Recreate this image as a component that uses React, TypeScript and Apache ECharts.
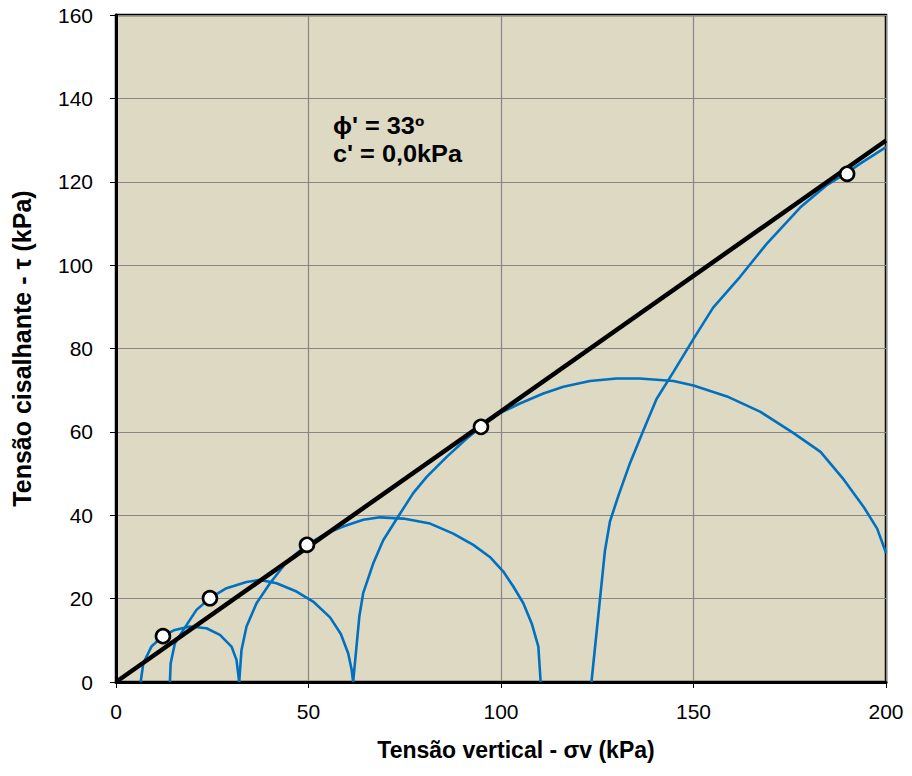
import React, { useEffect, useRef } from "react";
import * as echarts from "echarts";

// Mohr circles (σ, τ) for each test stage, kPa
const circle1: number[][] = [
  [6.4, 0], [7.1, 4.5], [9.2, 8.5], [12.2, 11], [15, 12.4], [19.2, 13.3], [23.5, 12.9],
  [27, 11.3], [30, 8.5], [31.3, 5.3], [32, 0],
];
const circle2: number[][] = [
  [14, 0], [14.2, 4.5], [15.3, 9.3], [17.5, 12.5], [20.9, 17.3], [24.4, 20.1], [28.7, 22.5],
  [33.9, 24], [37.4, 24.5], [41.7, 23.7], [46.9, 21.7], [51.2, 19.3], [55.6, 15.5],
  [58.4, 11.5], [60.3, 6.9], [61.2, 3], [61.6, 0],
];
const circle3: number[][] = [
  [32, 0], [32.6, 7.7], [33.9, 13.3], [36.5, 18.9], [40, 23.7], [44.3, 28.8], [49.6, 32.9],
  [54.7, 35.7], [59, 37.3], [64.2, 38.9], [68.6, 39.5], [74.6, 39.2], [81.6, 38],
  [87.6, 35.6], [92.8, 32.9], [97.1, 30], [100.6, 26.5], [103.2, 22.9], [105.8, 18.9],
  [108, 14], [109.7, 8.5], [110.3, 0],
];
const circle4: number[][] = [
  [61.6, 0], [63.2, 15.7], [64.2, 21.3], [66.8, 28.4], [69.4, 34], [73.3, 39.7], [77.2, 45.3],
  [80.7, 49.2], [85.9, 54], [91.1, 58.4], [94.8, 61.2], [99.7, 64.5], [104.9, 66.8],
  [111, 69.2], [116.2, 70.8], [123.1, 72.2], [130, 72.8], [136, 72.8], [144.8, 72.2],
  [150, 71.1], [158.7, 68.5], [167.4, 64.8], [176, 59.7], [183, 55.2], [189, 48.6],
  [194.2, 42], [197.7, 36.8], [200, 31],
];
const circle5: number[][] = [
  [123.5, 0], [127, 31.5], [128.3, 38.5], [130.5, 44.7], [133.5, 52.5], [137, 60.4],
  [140.4, 67.9], [144.8, 74.4], [150, 82.3], [155.1, 89.8], [162.1, 97.2], [169, 105.1],
  [177.7, 113.8], [184.5, 119.1], [189.9, 122.2], [193.2, 124.3], [200, 128.3],
];

// Failure points and Mohr–Coulomb envelope (φ' = 33º, c' = 0)
const failurePoints: number[][] = [
  [12.2, 11], [24.4, 20.1], [49.6, 32.9], [94.8, 61.2], [189.9, 121.9],
];
const envelope: number[][] = [[0, 0], [200, 129.9]];

const circles = [circle1, circle2, circle3, circle4, circle5];

const FONT = "'Liberation Sans', Arial, 'DejaVu Sans', sans-serif";

export default function App() {
  const ref = useRef<HTMLDivElement>(null);

  useEffect(() => {
    if (!ref.current) return;
    const chart = echarts.init(ref.current, null, { renderer: "svg" });

    const circleSeries = circles.map((data) => ({
      type: "line",
      data,
      showSymbol: false,
      symbol: "none",
      lineStyle: { color: "#0070C0", width: 2.6 },
      z: 2,
      silent: true,
    }));

    chart.setOption({
      animation: false,
      backgroundColor: "#ffffff",
      grid: {
        left: 116,
        right: 26,
        top: 15,
        bottom: 94,
        outerBoundsMode: "none",
        containLabel: false,
        show: true,
        backgroundColor: "#DDD9C3",
        borderColor: "#000000",
        borderWidth: 2.5,
      },
      xAxis: {
        type: "value",
        min: 0,
        max: 200,
        interval: 50,
        name: "Tensão vertical - σv (kPa)",
        nameLocation: "middle",
        nameGap: 56,
        nameTextStyle: {
          fontFamily: FONT,
          fontSize: 23,
          fontWeight: "bold",
          color: "#000",
          padding: [0, 0, 0, 30],
        },
        axisLine: { show: true, onZero: false, lineStyle: { color: "#000", width: 3 } },
        axisTick: { show: true, inside: false, length: 6, lineStyle: { color: "#000", width: 1 } },
        axisLabel: { fontFamily: FONT, fontSize: 21, color: "#000", margin: 19 },
        splitLine: { show: true, lineStyle: { color: "#878787", width: 1.2 } },
      },
      yAxis: {
        type: "value",
        min: 0,
        max: 160,
        interval: 20,
        name: "Tensão cisalhante - τ (kPa)",
        nameLocation: "middle",
        nameGap: 82,
        nameTextStyle: { fontFamily: FONT, fontSize: 25, fontWeight: "bold", color: "#000" },
        axisLine: { show: true, onZero: false, lineStyle: { color: "#000", width: 3 } },
        axisTick: { show: true, inside: false, length: 6, lineStyle: { color: "#000", width: 1 } },
        axisLabel: { fontFamily: FONT, fontSize: 21, color: "#000", margin: 23 },
        splitLine: { show: true, lineStyle: { color: "#878787", width: 1.2 } },
      },
      series: [
        ...circleSeries,
        {
          type: "line",
          data: envelope,
          showSymbol: false,
          symbol: "none",
          lineStyle: { color: "#000000", width: 4.5 },
          z: 3,
          silent: true,
        },
        {
          type: "scatter",
          data: failurePoints,
          symbol: "circle",
          symbolSize: 14,
          itemStyle: { color: "#ffffff", borderColor: "#000000", borderWidth: 2.6, opacity: 1 },
          z: 4,
          silent: true,
        },
      ],
      graphic: [
        {
          type: "text",
          x: 333,
          y: 126,
          scaleX: 1.1,
          style: {
            text: "ϕ' = 33º",
            fontFamily: FONT,
            fontSize: 23,
            fontWeight: "bold",
            fill: "#000",
            verticalAlign: "middle",
          },
          z: 10,
        },
        {
          type: "text",
          x: 333,
          y: 154,
          scaleX: 1.1,
          style: {
            text: "c' = 0,0kPa",
            fontFamily: FONT,
            fontSize: 23,
            fontWeight: "bold",
            fill: "#000",
            verticalAlign: "middle",
          },
          z: 10,
        },
      ],
    });

    return () => chart.dispose();
  }, []);

  return (
    <div
      ref={ref}
      style={{ position: "fixed", left: 0, top: 0, width: 912, height: 776 }}
    />
  );
}
